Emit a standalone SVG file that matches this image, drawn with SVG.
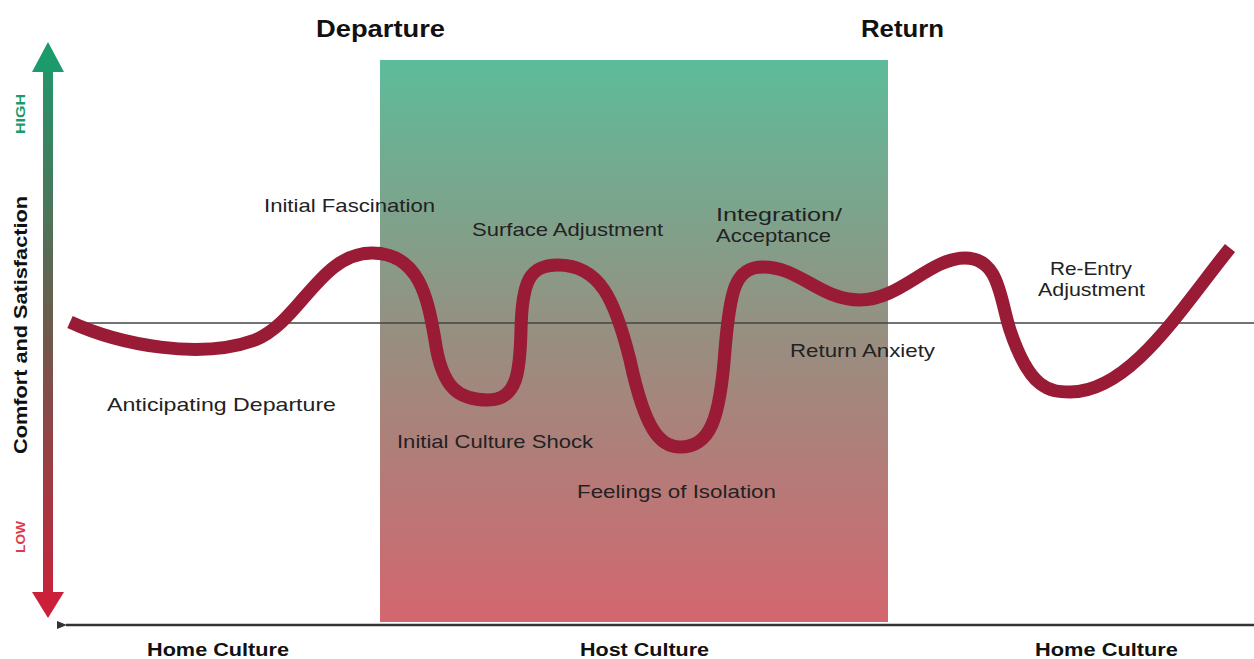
<svg xmlns="http://www.w3.org/2000/svg" width="1254" height="659" viewBox="0 0 1254 659">
<defs>
<linearGradient id="bg" x1="0" y1="0" x2="0" y2="1">
<stop offset="0" stop-color="#5dbc9a"/>
<stop offset="0.5" stop-color="#988e80"/>
<stop offset="1" stop-color="#d4666f"/>
</linearGradient>
<linearGradient id="ax" x1="0" y1="42" x2="0" y2="618" gradientUnits="userSpaceOnUse">
<stop offset="0" stop-color="#1c9a6c"/>
<stop offset="0.5" stop-color="#6e5a4c"/>
<stop offset="1" stop-color="#cc1f3a"/>
</linearGradient>
<marker id="ah" viewBox="0 0 10 10" refX="1" refY="5" markerWidth="4" markerHeight="4" orient="auto">
<path d="M10 1 L0 5 L10 9 Z" fill="#333"/>
</marker>
<style>
.lbl{font-family:"Liberation Sans",Arial,sans-serif;font-size:18.5px;fill:#222}
.hd{font-family:"Liberation Sans",Arial,sans-serif;font-size:24px;font-weight:bold;fill:#111}
.ft{font-family:"Liberation Sans",Arial,sans-serif;font-size:19px;font-weight:bold;fill:#111}
</style>
</defs>
<rect width="1254" height="659" fill="#fff"/>
<g id="host-zone">
<rect x="380" y="60" width="508" height="562" fill="url(#bg)"/>
</g>
<g id="connectors">
<line x1="70" y1="323" x2="1254" y2="323" stroke="#444" stroke-width="1.5"/>
<line x1="1254" y1="625" x2="66" y2="625" stroke="#333" stroke-width="2.5" marker-end="url(#ah)"/>
<path d="M43 72 L43 592 L53 592 L53 72 Z" fill="url(#ax)"/>
<path d="M48 42 L64 72 L32 72 Z" fill="#1c9a6c"/>
<path d="M48 618 L64 592 L32 592 Z" fill="#cc1f3a"/>
<path d="M70 322 C120 345,200 360,255 340 C300 322,320 253,372 253 C420 253,428 300,435 340 C442 390,460 400,488 400 C518 400,520 370,521 330 C522 280,530 265,558 265 C600 265,615 300,630 360 C645 430,660 447,680 447 C710 447,720 420,725 350 C730 290,735 267,763 267 C800 267,820 300,860 300 C900 300,930 258,965 258 C1000 258,1000 300,1010 330 C1030 390,1050 392,1070 392 C1130 392,1180 310,1230 248" fill="none" stroke="#991b35" stroke-width="13"/>
</g>
<g id="axis-labels">
<text class="ft" transform="translate(27 325) rotate(-90)" text-anchor="middle" textLength="258" lengthAdjust="spacingAndGlyphs">Comfort and Satisfaction</text>
<text transform="translate(25 114) rotate(-90)" text-anchor="middle" font-family="Liberation Sans,Arial,sans-serif" font-size="13" font-weight="bold" fill="#1c9a6c" textLength="40" lengthAdjust="spacingAndGlyphs">HIGH</text>
<text transform="translate(25 537) rotate(-90)" text-anchor="middle" font-family="Liberation Sans,Arial,sans-serif" font-size="13" font-weight="bold" fill="#e03a4a" textLength="32" lengthAdjust="spacingAndGlyphs">LOW</text>
</g>
<g id="headers">
<text class="hd" x="316" y="37" textLength="129" lengthAdjust="spacingAndGlyphs">Departure</text>
<text class="hd" x="861" y="37" textLength="83" lengthAdjust="spacingAndGlyphs">Return</text>
<text class="ft" x="147" y="656" textLength="142" lengthAdjust="spacingAndGlyphs">Home Culture</text>
<text class="ft" x="580" y="656" textLength="129" lengthAdjust="spacingAndGlyphs">Host Culture</text>
<text class="ft" x="1035" y="656" textLength="143" lengthAdjust="spacingAndGlyphs">Home Culture</text>
</g>
<g id="stage-labels">
<text class="lbl" x="264" y="212" textLength="171" lengthAdjust="spacingAndGlyphs">Initial Fascination</text>
<text class="lbl" x="472" y="236" textLength="191" lengthAdjust="spacingAndGlyphs">Surface Adjustment</text>
<text class="lbl" x="716" y="221" textLength="126" lengthAdjust="spacingAndGlyphs">Integration/</text>
<text class="lbl" x="716" y="242" textLength="115" lengthAdjust="spacingAndGlyphs">Acceptance</text>
<text class="lbl" x="1050" y="275" textLength="82" lengthAdjust="spacingAndGlyphs">Re-Entry</text>
<text class="lbl" x="1038" y="296" textLength="107" lengthAdjust="spacingAndGlyphs">Adjustment</text>
<text class="lbl" x="790" y="357" textLength="145" lengthAdjust="spacingAndGlyphs">Return Anxiety</text>
<text class="lbl" x="107" y="411" textLength="229" lengthAdjust="spacingAndGlyphs">Anticipating Departure</text>
<text class="lbl" x="397" y="448" textLength="196" lengthAdjust="spacingAndGlyphs">Initial Culture Shock</text>
<text class="lbl" x="577" y="498" textLength="199" lengthAdjust="spacingAndGlyphs">Feelings of Isolation</text>
</g>
</svg>
